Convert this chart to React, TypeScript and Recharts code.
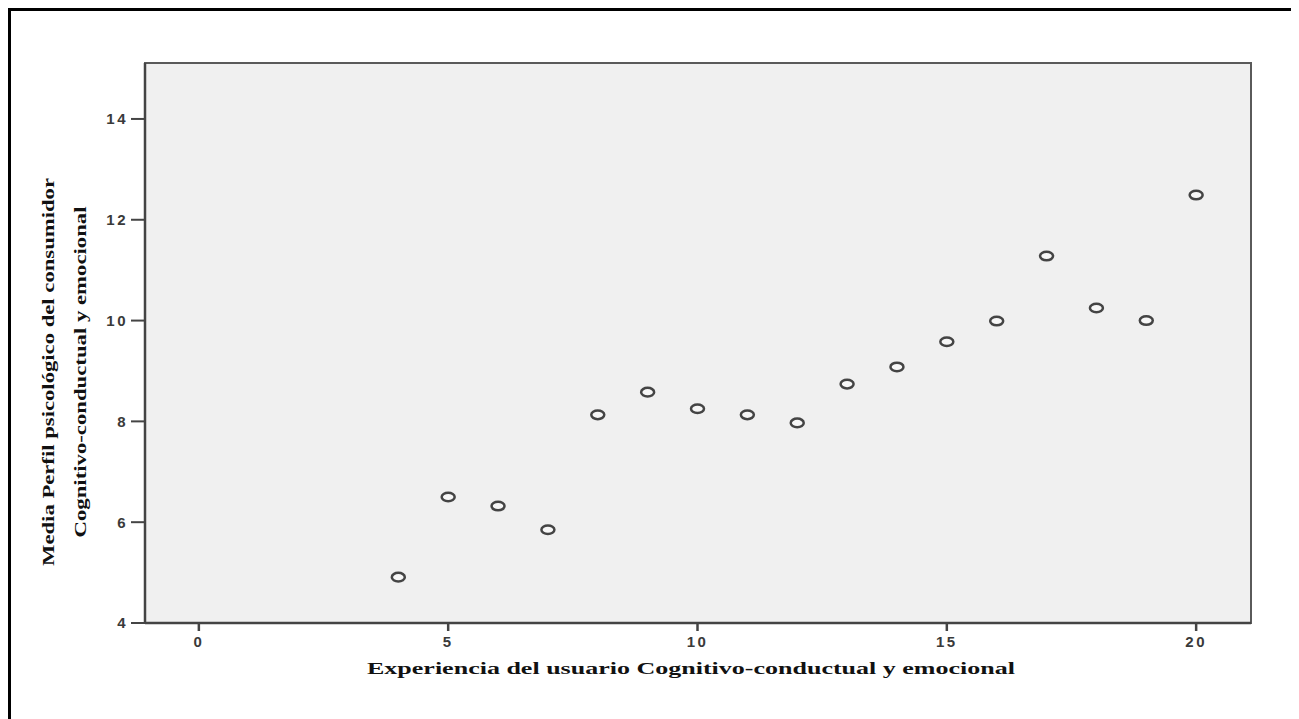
import React from 'react'
import { ScatterChart, Scatter, XAxis, YAxis, CartesianGrid, ReferenceArea, Label } from 'recharts'

// experiencia del usuario (x) vs media del perfil psicológico (y)
const experiencia = [4, 5, 6, 7, 8, 9, 10, 11, 12, 13, 14, 15, 16, 17, 18, 19, 20]
const mediaPerfil = [4.91, 6.5, 6.32, 5.85, 8.13, 8.58, 8.25, 8.13, 7.97, 8.74, 9.08, 9.58, 9.99, 11.28, 10.25, 10.0, 12.49]

const xTicks = [0, 5, 10, 15, 20]
const yTicks = [4, 6, 8, 10, 12, 14]
const xDomain = [-1.08, 21.1]
const yDomain = [4, 15.11]

const xTitle = 'Experiencia  del usuario  Cognitivo-conductual  y emocional'
const yTitle1 = 'Media  Perfil  psicológico  del  consumidor'
const yTitle2 = 'Cognitivo-conductual  y  emocional'

const points = experiencia.map((x, i) => ({ x, y: mediaPerfil[i] }))

const tickFont = '"Liberation Sans", Arial, sans-serif'
const titleFont = '"Liberation Serif", "Times New Roman", serif'

const Ring = (props: any) => {
  if (props.cx == null || props.cy == null) return null
  return <ellipse cx={props.cx} cy={props.cy} rx={6.5} ry={4.3} fill="#f7f7f7" stroke="#444" strokeWidth={2.5} />
}

const AxisTick = (props: any) => {
  const left = props.orientation === 'left'
  return (
    <text x={props.x} y={props.y} textAnchor={left ? 'end' : 'middle'} dy={left ? '0.36em' : '0.72em'}
      fontFamily={tickFont} fontSize={15} fontWeight={600} fill="#3a3a3a" letterSpacing={2.5}>
      {props.payload.value}
    </text>
  )
}

const YTitle = (props: any) => {
  const vb = props.viewBox || { x: 0, y: 0, width: 0, height: 0 }
  const cy = vb.y + vb.height / 2 + 29
  return (
    <g fontFamily={titleFont} fontWeight="bold" fontSize={17} fill="#111">
      <text x={0} y={0} transform={`translate(${vb.x + 43}, ${cy}) rotate(-90)`} textAnchor="middle"
        textLength={388} lengthAdjust="spacingAndGlyphs">{yTitle1}</text>
      <text x={0} y={0} transform={`translate(${vb.x + 75}, ${cy}) rotate(-90)`} textAnchor="middle"
        textLength={331} lengthAdjust="spacingAndGlyphs">{yTitle2}</text>
    </g>
  )
}

const XTitle = (props: any) => {
  const vb = props.viewBox || { x: 0, y: 0, width: 0, height: 0 }
  return (
    <text x={vb.x + vb.width / 2 - 7} y={vb.y + 51} textAnchor="middle" fontFamily={titleFont}
      fontWeight="bold" fontSize={17} fill="#111" textLength={648} lengthAdjust="spacingAndGlyphs">
      {xTitle}
    </text>
  )
}

export default function App() {
  return (
    <div style={{ width: 1289, height: 715, border: '3px solid #000', boxSizing: 'border-box', background: '#fff' }}>
      <ScatterChart width={1283} height={709} margin={{ top: 52, right: 43, bottom: 37, left: 0 }}>
        <CartesianGrid fill="#f0f0f0" horizontal={false} vertical={false} />
        <ReferenceArea x1={xDomain[0]} x2={xDomain[1]} y1={yDomain[0]} y2={yDomain[1]}
          fill="none" stroke="#5a5a5a" strokeWidth={2} ifOverflow="visible" />
        <XAxis type="number" dataKey="x" domain={xDomain} ticks={xTicks} allowDataOverflow
          height={60} tickSize={8} tickMargin={5} tick={<AxisTick />}
          axisLine={{ stroke: '#444', strokeWidth: 2.5 }} tickLine={{ stroke: '#444', strokeWidth: 2.5 }}>
          <Label content={XTitle} />
        </XAxis>
        <YAxis type="number" dataKey="y" domain={yDomain} ticks={yTicks} allowDataOverflow
          width={134} tickSize={14} tickMargin={3} tick={<AxisTick />}
          axisLine={{ stroke: '#444', strokeWidth: 2.5 }} tickLine={{ stroke: '#444', strokeWidth: 2 }}>
          <Label content={YTitle} />
        </YAxis>
        <Scatter data={points} shape={Ring} isAnimationActive={false} />
      </ScatterChart>
    </div>
  )
}
